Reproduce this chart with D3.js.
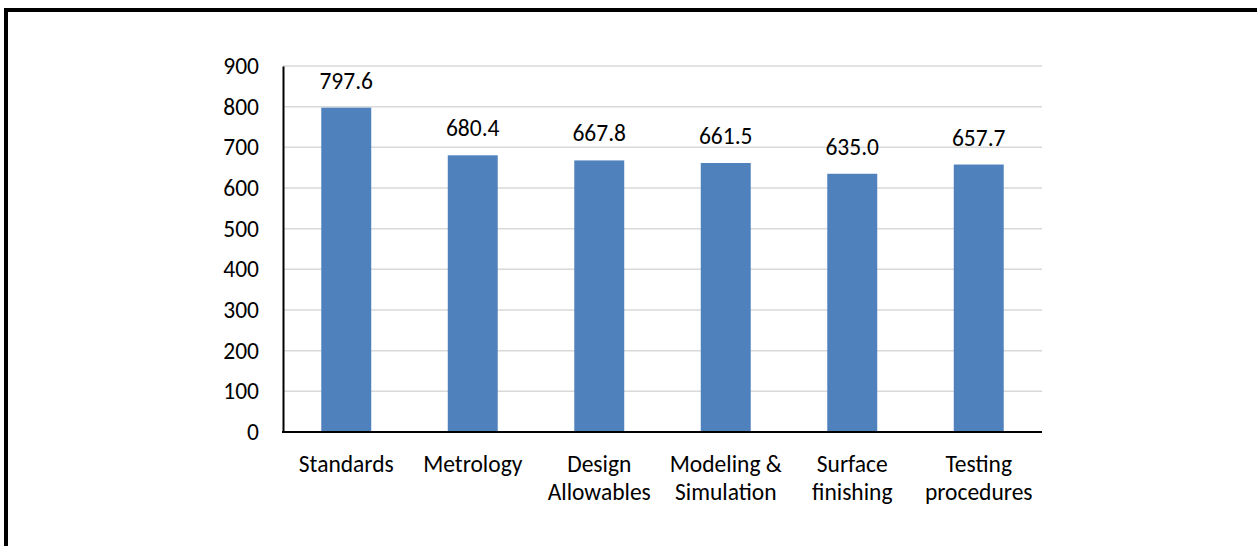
<!DOCTYPE html>
<html>
<head>
<meta charset="utf-8">
<script src="https://cdn.jsdelivr.net/npm/d3@7"></script>
<style>
  html, body { margin: 0; padding: 0; background: #fff; }
  svg { display: block; font-family: Carlito, Calibri, Lato, sans-serif; }
</style>
</head>
<body>
<svg id="chart" width="1257" height="546"></svg>
<script>
// Chart data
const categories = [
  ["Standards"],
  ["Metrology"],
  ["Design", "Allowables"],
  ["Modeling &", "Simulation"],
  ["Surface", "finishing"],
  ["Testing", "procedures"]
];
const values = [797.6, 680.4, 667.8, 661.5, 635.0, 657.7];
const yTicks = [0, 100, 200, 300, 400, 500, 600, 700, 800, 900];

const fontSize = 23.5;
const svg = d3.select("#chart");

// Outer frame (only left and top edges fall inside the picture)
svg.append("rect")
  .attr("x", 6).attr("y", 10)
  .attr("width", 1300).attr("height", 600)
  .attr("fill", "none")
  .attr("stroke", "#000")
  .attr("stroke-width", 4);

const plot = { left: 283, right: 1042, top: 66, bottom: 432 };

const xScale = d3.scaleBand()
  .domain(d3.range(categories.length))
  .range([plot.left, plot.right])
  .padding(0);

const yScale = d3.scaleLinear()
  .domain([0, 900])
  .range([plot.bottom, plot.top]);

const barWidth = xScale.bandwidth() * 0.395;

/*******************/
/*  Gridlines      */
/*******************/
svg.append("g")
  .selectAll("line")
  .data(yTicks.filter(t => t > 0))
  .join("line")
    .attr("x1", plot.left)
    .attr("x2", plot.right)
    .attr("y1", d => yScale(d))
    .attr("y2", d => yScale(d))
    .attr("stroke", "#d9d9d9")
    .attr("stroke-width", 1.5);

/*******************/
/*  Bars           */
/*******************/
svg.append("g")
  .selectAll("rect")
  .data(values)
  .join("rect")
    .attr("x", (d, i) => xScale(i) + xScale.bandwidth() / 2 - barWidth / 2)
    .attr("y", d => yScale(d))
    .attr("width", barWidth)
    .attr("height", d => yScale(0) - yScale(d))
    .attr("fill", "#4f81bd");

// Value labels
svg.append("g")
  .selectAll("text")
  .data(values)
  .join("text")
    .attr("x", (d, i) => xScale(i) + xScale.bandwidth() / 2)
    .attr("y", d => yScale(d) - 19)
    .attr("text-anchor", "middle")
    .attr("font-size", fontSize)
    .attr("font-weight", 300)
    .attr("fill", "#000")
    .text(d => d.toFixed(1));

/*******************/
/*  Axes           */
/*******************/
const yAxis = svg.append("g")
  .attr("transform", `translate(${plot.left},0)`)
  .call(d3.axisLeft(yScale).tickValues(yTicks).tickSize(0).tickPadding(24));
yAxis.select(".domain").attr("stroke", "#000").attr("stroke-width", 2);
yAxis.selectAll("text")
  .attr("font-size", fontSize)
  .attr("font-weight", 300)
  .attr("font-family", "Carlito, Calibri, Lato, sans-serif")
  .attr("fill", "#000");

svg.append("line")
  .attr("x1", plot.left - 1).attr("x2", plot.right)
  .attr("y1", plot.bottom).attr("y2", plot.bottom)
  .attr("stroke", "#000")
  .attr("stroke-width", 2);

// Category labels, one tspan per line
svg.append("g")
  .selectAll("text")
  .data(categories)
  .join("text")
    .attr("x", (d, i) => xScale(i) + xScale.bandwidth() / 2)
    .attr("y", 472)
    .attr("text-anchor", "middle")
    .attr("font-size", fontSize)
    .attr("font-weight", 300)
    .attr("fill", "#000")
  .selectAll("tspan")
  .data(d => d)
  .join("tspan")
    .attr("x", function () { return d3.select(this.parentNode).attr("x"); })
    .attr("dy", (d, i) => i === 0 ? 0 : 28)
    .text(d => d);
</script>
</body>
</html>
